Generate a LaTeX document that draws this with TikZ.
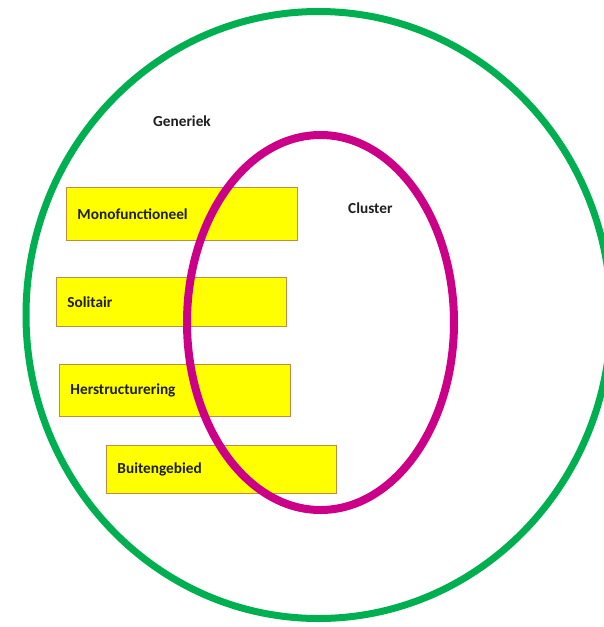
\documentclass[tikz,border=0pt]{standalone}
\usepackage{fontspec}
\setmainfont{Carlito}
\usetikzlibrary{shapes.geometric}
\definecolor{ringgreen}{RGB}{0,176,80}
\definecolor{ringmagenta}{RGB}{204,0,136}
\definecolor{boxyellow}{RGB}{255,255,0}
\definecolor{boxborder}{RGB}{190,140,70}
\definecolor{txt}{RGB}{30,30,30}
\tikzset{
  ring/.style={ellipse, draw, inner sep=0pt},
  catbox/.style={rectangle, draw=boxborder, fill=boxyellow, line width=0.9pt,
    anchor=north west, inner xsep=11pt, inner ysep=0pt, align=left,
    font=\fontsize{15.3}{18}\selectfont\bfseries, text=txt},
  lbl/.style={font=\fontsize{15.3}{18}\selectfont\bfseries, text=txt, inner sep=0pt}
}
\begin{document}
\begin{tikzpicture}[x=1pt,y=-1pt]
\useasboundingbox (0,0) rectangle (604,627);
\node[ring, draw=ringgreen, line width=7pt, minimum width=585pt, minimum height=607pt] (generic) at (318.5,315) {};
\node[catbox, text width=209pt, minimum height=53pt] (mono) at (66,187) {Monofunctioneel};
\node[catbox, text width=208pt, minimum height=49pt] (soli) at (56,277) {Solitair};
\node[catbox, text width=209pt, minimum height=52pt] (herst) at (59,364) {Herstructurering};
\node[catbox, text width=208pt, minimum height=48pt] (buiten) at (106,445) {Buitengebied};
\node[ring, draw=ringmagenta, line width=8pt, minimum width=267pt, minimum height=375pt] (cluster) at (320.5,322.5) {};
\node[lbl, anchor=west] (genlbl) at (153,121) {Generiek};
\node[lbl, anchor=west] (clulbl) at (348,208) {Cluster};
\end{tikzpicture}
\end{document}
